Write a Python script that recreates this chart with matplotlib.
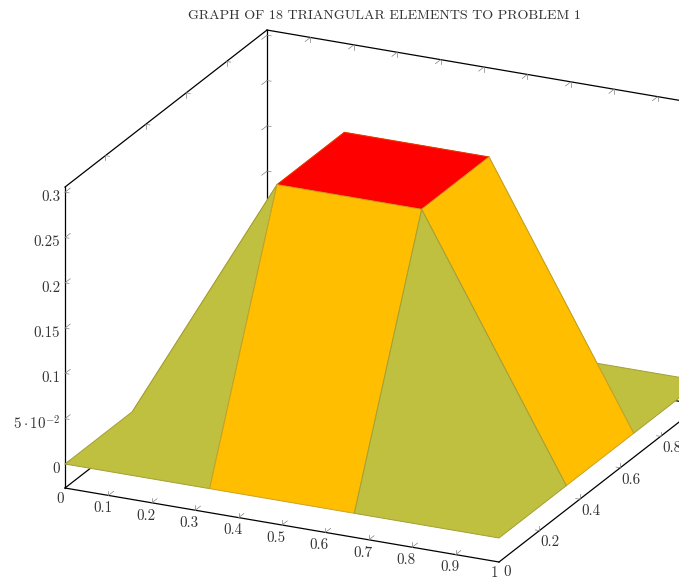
import matplotlib
matplotlib.use('Agg')
import matplotlib.pyplot as plt
from matplotlib.collections import PolyCollection
from matplotlib.colors import ListedColormap, BoundaryNorm

plt.rcParams['font.family'] = ['cmr10', 'DejaVu Serif']
plt.rcParams['mathtext.fontset'] = 'cm'
plt.rcParams['axes.unicode_minus'] = False

title = 'GRAPH OF 18 TRIANGULAR ELEMENTS TO PROBLEM 1'

# nodes of the mesh and solution values, z[j][i] -> y index j, x index i
node_x = [0, 1/3, 2/3, 1]
node_y = [0, 1/3, 2/3, 1]
node_z = [[0, 0, 0, 0],
          [0, 5/18, 5/18, 0],
          [0, 5/18, 5/18, 0],
          [0, 0, 0, 0]]

x_ticks = [0, 0.1, 0.2, 0.3, 0.4, 0.5, 0.6, 0.7, 0.8, 0.9, 1]
x_labels = ['0', '0.1', '0.2', '0.3', '0.4', '0.5', '0.6', '0.7', '0.8', '0.9', '1']
y_ticks = [0, 0.2, 0.4, 0.6, 0.8]
y_labels = ['0', '0.2', '0.4', '0.6', '0.8']
z_ticks = [0, 0.05, 0.1, 0.15, 0.2, 0.25, 0.3]
z_labels = ['0', r'$5\cdot 10^{-2}$', '0.1', '0.15', '0.2', '0.25', '0.3']
z_min = -0.0265
z_max = 0.3057


# orthographic view, pixels of the picture
def proj(x, y, z):
    return (65 + 434 * x + 202 * y, 464 + 74 * x - 157 * y - 906 * z)


def line(ax, a, b, **kw):
    pa = proj(*a)
    pb = proj(*b)
    ax.plot([pa[0], pb[0]], [pa[1], pb[1]], solid_capstyle='projecting', **kw)


def tick(ax, p, d1, d2):
    # pgfplots draws two little strokes per tick, one in each box plane
    for d in (d1, d2):
        q = (p[0] + d[0], p[1] + d[1], p[2] + d[2])
        line(ax, p, q, color='#808080', lw=0.5)


fig = plt.figure(figsize=(6.79, 5.81), dpi=100)
ax = fig.add_axes([0, 0, 1, 1])
ax.set_xlim(0, 679)
ax.set_ylim(581, 0)
ax.axis('off')

axis_style = dict(color='black', lw=0.9)
tx = 0.0095
ty = 0.026
tz = 0.0052

# back part of the box, painted over by the surface
line(ax, (0, 1, z_min), (0, 1, z_max), **axis_style)
line(ax, (0, 0, z_min), (0, 1, z_min), **axis_style)
line(ax, (0, 1, z_min), (1, 1, z_min), **axis_style)
line(ax, (1, 0, z_min), (1, 1, z_min), **axis_style)
line(ax, (0, 0, z_max), (0, 1, z_max), **axis_style)
line(ax, (0, 1, z_max), (1, 1, z_max), **axis_style)
line(ax, (0, 0, z_min), (0, 0, z_max), **axis_style)
line(ax, (0, 0, z_min), (1, 0, z_min), **axis_style)

for v in x_ticks[1:-1]:
    tick(ax, (v, 0, z_min), (0, ty, 0), (0, 0, tz))
    tick(ax, (v, 1, z_max), (0, -ty, 0), (0, 0, -tz))
for v in y_ticks[1:]:
    tick(ax, (1, v, z_min), (-tx, 0, 0), (0, 0, tz))
    tick(ax, (0, v, z_max), (tx, 0, 0), (0, 0, -tz))
for v in z_ticks:
    tick(ax, (0, 0, v), (tx, 0, 0), (0, ty, 0))
    tick(ax, (0, 1, v), (tx, 0, 0), (0, -ty, 0))

# surface cells back to front, colour from the mean of the four corners
polys = []
means = []
for j in range(2, -1, -1):
    for i in range(3):
        corners = [(i, j), (i + 1, j), (i + 1, j + 1), (i, j + 1)]
        polys.append([proj(node_x[a], node_y[b], node_z[b][a]) for a, b in corners])
        means.append(sum(node_z[b][a] for a, b in corners) / 4)

cmap = ListedColormap(['#BFBF40', '#FFBF00', '#FF0000'])
norm = BoundaryNorm([0, 0.1, 0.2, 0.3], 3)
surf = PolyCollection(polys, array=means, cmap=cmap, norm=norm, linewidths=0.7, zorder=3)
surf.set_edgecolors([{0.069: '#A39F35', 0.139: '#C9A222', 0.278: '#F03008'}[round(m, 3)] for m in means])
ax.add_collection(surf)

# tick labels
lab = dict(fontsize=10.8, color='#333333', ha='center', va='center')
for v, s in zip(x_ticks, x_labels):
    p = proj(v, 0, z_min)
    dx, dy = (-5, 11) if s in ('0', '1') else (-6, 13)
    ax.text(p[0] + dx, p[1] + dy, s, **lab)
for v, s in zip(y_ticks, y_labels):
    p = proj(1, v, z_min)
    dx, dy = (8, 10) if s == '0' else (11, 12)
    ax.text(p[0] + dx, p[1] + dy, s, **lab)
for v, s in zip(z_ticks, z_labels):
    p = proj(0, 0, v)
    ax.text(60, p[1] + 5, s, fontsize=10.8, color='#333333', ha='right', va='center')

ax.text(384, 16, title, fontsize=10.1, color='#333333', ha='center', va='center')

fig.savefig('out.png', dpi=100)
